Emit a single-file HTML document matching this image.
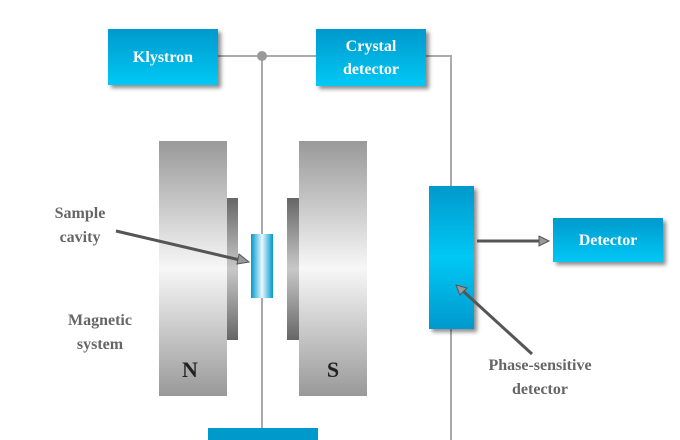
<!DOCTYPE html>
<html><head><style>
body{margin:0;width:680px;height:440px;background:#fff;overflow:hidden;position:relative;font-family:"Liberation Serif",serif;}
.b{position:absolute;background:linear-gradient(#0099cc,#00c8f5);color:#fff;font-weight:bold;font-size:16px;text-align:center;box-shadow:3px 3px 4px rgba(0,0,0,0.45);display:flex;align-items:center;justify-content:center;line-height:23px}
.t{position:absolute;color:#666;font-weight:bold;font-size:16px;text-align:center;line-height:24px}
</style></head><body>
<svg width="680" height="440" style="position:absolute;left:0;top:0">
<defs>
<linearGradient id="mag" x1="0" y1="0" x2="0" y2="1"><stop offset="0" stop-color="#999"/><stop offset="0.5" stop-color="#f7f7f7"/><stop offset="1" stop-color="#999"/></linearGradient>
<linearGradient id="pole" x1="0" y1="0" x2="0" y2="1"><stop offset="0" stop-color="#666"/><stop offset="0.5" stop-color="#c8c8c8"/><stop offset="1" stop-color="#666"/></linearGradient>
<linearGradient id="samp" x1="0" y1="0" x2="1" y2="0"><stop offset="0" stop-color="#0099cc"/><stop offset="0.5" stop-color="#e8f8ff"/><stop offset="1" stop-color="#0099cc"/></linearGradient>
</defs>
<g stroke="#aaa" stroke-width="2" fill="none">
<line x1="218" y1="56" x2="316" y2="56"/>
<line x1="262" y1="56" x2="262" y2="430"/>
<polyline points="426,56 451,56 451,440"/>
</g>
<circle cx="262" cy="56" r="5" fill="#999"/>
<rect x="159" y="141" width="68" height="255" fill="url(#mag)"/>
<rect x="299" y="141" width="68" height="255" fill="url(#mag)"/>
<rect x="227" y="198" width="11" height="142" fill="url(#pole)"/>
<rect x="287" y="198" width="12" height="142" fill="url(#pole)"/>
<rect x="251" y="234" width="22" height="64" fill="url(#samp)"/>
<rect x="208" y="428" width="110" height="12" fill="#0099cc"/>
<text x="190" y="377" font-family="Liberation Serif" font-weight="bold" font-size="22" fill="#222" text-anchor="middle">N</text>
<text x="333" y="377" font-family="Liberation Serif" font-weight="bold" font-size="22" fill="#222" text-anchor="middle">S</text>
</svg>
<div class="b" style="left:108px;top:29px;width:110px;height:56px">Klystron</div>
<div class="b" style="left:316px;top:29px;width:110px;height:57px">Crystal<br>detector</div>
<div class="b" style="left:429px;top:186px;width:45px;height:143px;background:linear-gradient(#0099cc,#00c8f5 50%,#0099cc)"></div>
<div class="b" style="left:553px;top:218px;width:110px;height:44px">Detector</div>
<div class="t" style="left:30px;top:202px;width:100px">Sample<br>cavity</div>
<div class="t" style="left:50px;top:309px;width:100px">Magnetic<br>system</div>
<div class="t" style="left:455px;top:354px;width:170px">Phase-sensitive<br>detector</div>
<svg width="680" height="440" style="position:absolute;left:0;top:0">
<g stroke="#555" stroke-width="3" fill="#999">
<line x1="116" y1="231" x2="240" y2="260"/>
<line x1="477" y1="241" x2="540" y2="241"/>
<line x1="532" y1="354" x2="463" y2="291"/>
</g>
<g stroke="#555" stroke-width="1" fill="#999">
<polygon points="249,262 237,264 239,254"/>
<polygon points="549,241 539,236 539,246"/>
<polygon points="456,285 467,288 460,295"/>
</g>
</svg>
</body></html>
